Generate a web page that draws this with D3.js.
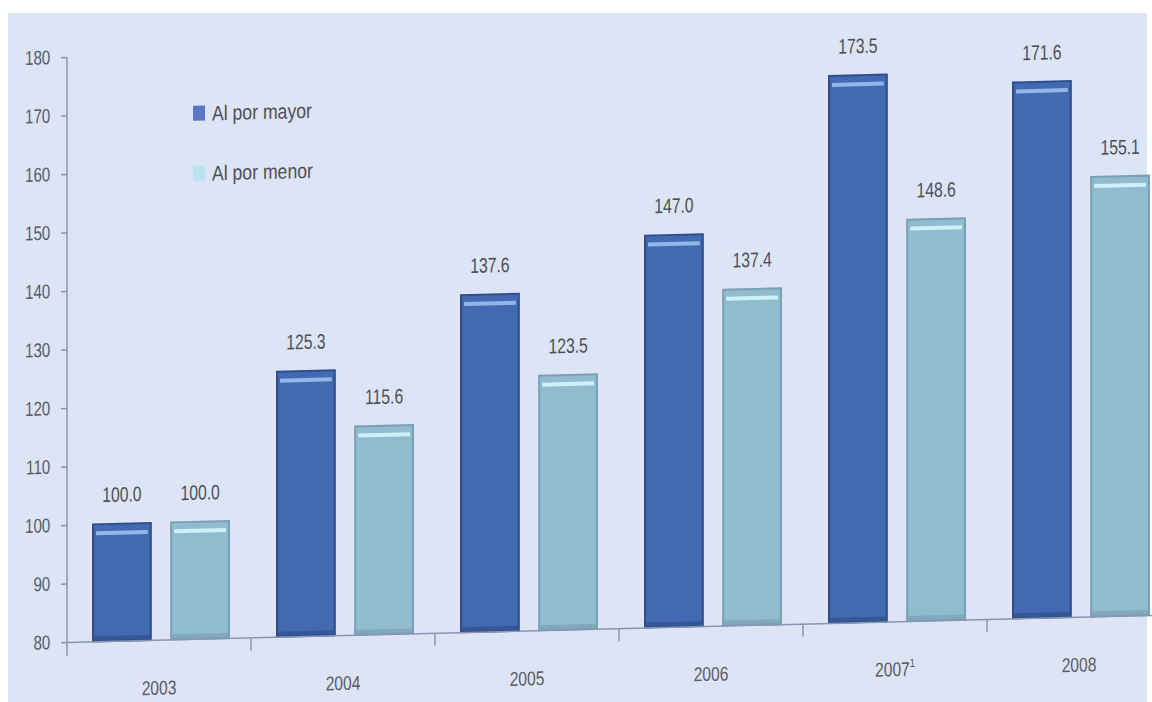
<!DOCTYPE html>
<html>
<head>
<meta charset="utf-8">
<script src="https://cdn.jsdelivr.net/npm/d3@7"></script>
<style>
  html, body { margin: 0; padding: 0; background: #ffffff; }
  svg { display: block; }
  text { font-family: "Liberation Sans", Arial, sans-serif; }
</style>
</head>
<body>
<svg id="chart" width="1152" height="702"></svg>
<script>
// Price index (2003 = 100), wholesale vs retail
const years = ["2003", "2004", "2005", "2006", "2007", "2008"];
const yearNotes = ["", "", "", "", "1", ""];
const seriesNames = ["Al por mayor", "Al por menor"];
const mayor = [100.0, 125.3, 137.6, 147.0, 173.5, 171.6];
const menor = [100.0, 115.6, 123.5, 137.4, 148.6, 155.1];
const yTicks = [80, 90, 100, 110, 120, 130, 140, 150, 160, 170, 180];

const rows = years.map((yr, i) => ({ year: yr, note: yearNotes[i], values: [mayor[i], menor[i]] }));

const palette = {
  fill:   ["#4469b3", "#91bcd0"],
  stroke: ["#2f4f8c", "#7aa0b2"],
  shine:  ["#93b6ea", "#cdf1fb"],
  legend: ["#5a74c6", "#b9e3f2"]
};

const svg = d3.select("#chart");

// page background
svg.append("rect").attr("x", 0).attr("y", 0).attr("width", 1152).attr("height", 702).attr("fill", "#ffffff");
svg.append("rect").attr("x", 8).attr("y", 13).attr("width", 1139).attr("height", 689).attr("fill", "#dde4f5");

// the printed page sits slightly tilted
const tilt = Math.atan(0.025) * 180 / Math.PI;
const g = svg.append("g").attr("transform", `translate(67,0) skewY(${-tilt})`);

const y = d3.scaleLinear().domain([80, 180]).range([642, 57]);
const x0 = d3.scaleBand().domain(years).range([0, 1104]).padding(0);
const x1 = d3.scaleBand().domain([0, 1]).range([26, 162]).paddingInner(0.26);

// condensed text placed at (x, y)
function squeezed(sel, x, yv, s) {
  return sel.attr("x", 0).attr("y", 0)
    .attr("transform", (d, i) => `translate(${typeof x === "function" ? x(d, i) : x},${typeof yv === "function" ? yv(d, i) : yv}) scale(${s},1)`);
}

// bars
const groups = g.selectAll("g.year").data(rows).join("g")
  .attr("class", "year")
  .attr("transform", d => `translate(${x0(d.year)},0)`);

const bars = groups.selectAll("g.bar").data(d => d.values.map((v, k) => ({ v, k }))).join("g").attr("class", "bar");

bars.append("rect")
  .attr("x", d => x1(d.k))
  .attr("y", d => y(d.v))
  .attr("width", x1.bandwidth())
  .attr("height", d => y(80) - y(d.v))
  .attr("fill", d => palette.fill[d.k])
  .attr("stroke", d => palette.stroke[d.k])
  .attr("stroke-width", 2);

// bottom shade
bars.append("rect")
  .attr("x", d => x1(d.k) + 1)
  .attr("y", y(80) - 5)
  .attr("width", x1.bandwidth() - 2)
  .attr("height", 5)
  .attr("fill", d => palette.stroke[d.k])
  .attr("opacity", 0.7);

// highlight strip near the top
bars.append("rect")
  .attr("x", d => x1(d.k) + 3)
  .attr("y", d => y(d.v) + 7)
  .attr("width", x1.bandwidth() - 6)
  .attr("height", 4)
  .attr("fill", d => palette.shine[d.k]);

// value labels
bars.append("text")
  .call(squeezed, d => x1(d.k) + x1.bandwidth() / 2, d => y(d.v) - 22, 0.75)
  .attr("text-anchor", "middle")
  .attr("font-size", 21)
  .attr("fill", "#4c5056")
  .text(d => d3.format(".1f")(d.v));

// y axis
const yAxis = d3.axisLeft(y).tickValues(yTicks).tickSize(6).tickPadding(16).tickFormat(d3.format("d"));
const ya = g.append("g").call(yAxis);
ya.select(".domain").remove();
ya.selectAll(".tick line").attr("stroke", "#8796b4").attr("stroke-width", 1.5);
ya.selectAll(".tick text")
  .attr("font-size", 20).attr("fill", "#585c63").attr("font-family", null)
  .attr("transform", "scale(0.76,1)");
g.append("line").attr("x1", 0).attr("x2", 0).attr("y1", y(180)).attr("y2", y(80) + 14)
  .attr("stroke", "#8796b4").attr("stroke-width", 1.5);

// x axis baseline and category separators
const xa = g.append("g").attr("transform", `translate(0,${y(80)})`)
  .call(d3.axisBottom(x0).tickSize(0).tickFormat(""));
xa.select(".domain").attr("stroke", "#8796b4").attr("stroke-width", 1.5);
xa.selectAll(".tick").remove();
g.selectAll("line.sep").data(years.slice(1)).join("line")
  .attr("class", "sep")
  .attr("x1", d => x0(d)).attr("x2", d => x0(d))
  .attr("y1", y(80)).attr("y2", y(80) + 13)
  .attr("stroke", "#8796b4").attr("stroke-width", 1.5);

// year labels
const yl = g.selectAll("text.yr").data(rows).join("text")
  .attr("class", "yr")
  .call(squeezed, d => x0(d.year) + x0.bandwidth() / 2, 697, 0.78)
  .attr("text-anchor", "middle")
  .attr("font-size", 20)
  .attr("fill", "#585c63");
yl.append("tspan").text(d => d.year);
yl.append("tspan").attr("dy", -9).attr("font-size", 12).text(d => d.note);

// legend
const lg = g.append("g").attr("transform", "translate(126,0)");
seriesNames.forEach((name, k) => {
  const cy = 116 + k * 60;
  lg.append("rect").attr("x", 0).attr("y", cy - 7).attr("width", 12).attr("height", 15).attr("fill", palette.legend[k]);
  lg.append("text").call(squeezed, 19, cy + 8, 0.84)
    .attr("font-size", 21).attr("fill", "#4c5056").text(name);
});
</script>
</body>
</html>
